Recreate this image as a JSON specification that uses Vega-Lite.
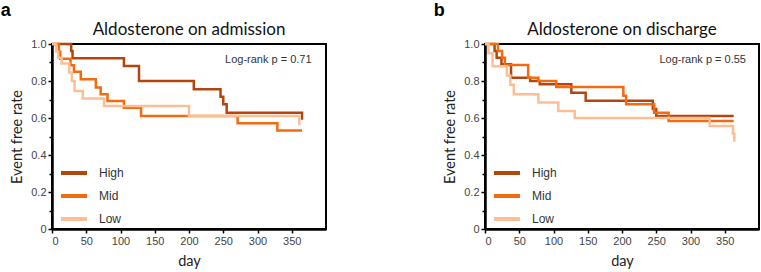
{
  "$schema": "https://vega.github.io/schema/vega-lite/v6.json",
  "padding": {"left": 0, "right": 2, "top": 2, "bottom": 2},
  "datasets": {
    "km": [
      {"p": "a", "g": "High", "d": 0, "s": 1},
      {"p": "a", "g": "High", "d": 28, "s": 0.962},
      {"p": "a", "g": "High", "d": 30, "s": 0.923},
      {"p": "a", "g": "High", "d": 105, "s": 0.881},
      {"p": "a", "g": "High", "d": 127, "s": 0.8},
      {"p": "a", "g": "High", "d": 207, "s": 0.755},
      {"p": "a", "g": "High", "d": 246, "s": 0.715},
      {"p": "a", "g": "High", "d": 250, "s": 0.674},
      {"p": "a", "g": "High", "d": 255, "s": 0.629},
      {"p": "a", "g": "High", "d": 365, "s": 0.59},
      {"p": "a", "g": "Mid", "d": 0, "s": 1},
      {"p": "a", "g": "Mid", "d": 10, "s": 0.96},
      {"p": "a", "g": "Mid", "d": 12, "s": 0.92},
      {"p": "a", "g": "Mid", "d": 27, "s": 0.885},
      {"p": "a", "g": "Mid", "d": 32, "s": 0.85},
      {"p": "a", "g": "Mid", "d": 42, "s": 0.81},
      {"p": "a", "g": "Mid", "d": 64, "s": 0.765},
      {"p": "a", "g": "Mid", "d": 71, "s": 0.728},
      {"p": "a", "g": "Mid", "d": 81, "s": 0.692},
      {"p": "a", "g": "Mid", "d": 105, "s": 0.656},
      {"p": "a", "g": "Mid", "d": 130, "s": 0.611},
      {"p": "a", "g": "Mid", "d": 271, "s": 0.572},
      {"p": "a", "g": "Mid", "d": 329, "s": 0.533},
      {"p": "a", "g": "Mid", "d": 365, "s": 0.533},
      {"p": "a", "g": "Low", "d": 0, "s": 1},
      {"p": "a", "g": "Low", "d": 6, "s": 0.96},
      {"p": "a", "g": "Low", "d": 9, "s": 0.926},
      {"p": "a", "g": "Low", "d": 14, "s": 0.894},
      {"p": "a", "g": "Low", "d": 25, "s": 0.846},
      {"p": "a", "g": "Low", "d": 29, "s": 0.8},
      {"p": "a", "g": "Low", "d": 33, "s": 0.746},
      {"p": "a", "g": "Low", "d": 45, "s": 0.705},
      {"p": "a", "g": "Low", "d": 76, "s": 0.665},
      {"p": "a", "g": "Low", "d": 200, "s": 0.611},
      {"p": "a", "g": "Low", "d": 361, "s": 0.561},
      {"p": "b", "g": "High", "d": 0, "s": 1},
      {"p": "b", "g": "High", "d": 14, "s": 0.962},
      {"p": "b", "g": "High", "d": 17, "s": 0.926},
      {"p": "b", "g": "High", "d": 24, "s": 0.89},
      {"p": "b", "g": "High", "d": 38, "s": 0.818},
      {"p": "b", "g": "High", "d": 66, "s": 0.8},
      {"p": "b", "g": "High", "d": 80, "s": 0.782},
      {"p": "b", "g": "High", "d": 126, "s": 0.737},
      {"p": "b", "g": "High", "d": 147, "s": 0.693},
      {"p": "b", "g": "High", "d": 245, "s": 0.649},
      {"p": "b", "g": "High", "d": 250, "s": 0.611},
      {"p": "b", "g": "High", "d": 363, "s": 0.611},
      {"p": "b", "g": "Mid", "d": 0, "s": 1},
      {"p": "b", "g": "Mid", "d": 19, "s": 0.962},
      {"p": "b", "g": "Mid", "d": 25, "s": 0.926},
      {"p": "b", "g": "Mid", "d": 29, "s": 0.886},
      {"p": "b", "g": "Mid", "d": 63, "s": 0.818},
      {"p": "b", "g": "Mid", "d": 78, "s": 0.8},
      {"p": "b", "g": "Mid", "d": 104, "s": 0.768},
      {"p": "b", "g": "Mid", "d": 202, "s": 0.72},
      {"p": "b", "g": "Mid", "d": 206, "s": 0.674},
      {"p": "b", "g": "Mid", "d": 247, "s": 0.629},
      {"p": "b", "g": "Mid", "d": 268, "s": 0.584},
      {"p": "b", "g": "Mid", "d": 363, "s": 0.584},
      {"p": "b", "g": "Low", "d": 0, "s": 1},
      {"p": "b", "g": "Low", "d": 5, "s": 0.95},
      {"p": "b", "g": "Low", "d": 11, "s": 0.88},
      {"p": "b", "g": "Low", "d": 32, "s": 0.83},
      {"p": "b", "g": "Low", "d": 37, "s": 0.78},
      {"p": "b", "g": "Low", "d": 42, "s": 0.728},
      {"p": "b", "g": "Low", "d": 78, "s": 0.684},
      {"p": "b", "g": "Low", "d": 107, "s": 0.638},
      {"p": "b", "g": "Low", "d": 131, "s": 0.6},
      {"p": "b", "g": "Low", "d": 328, "s": 0.557},
      {"p": "b", "g": "Low", "d": 362, "s": 0.515},
      {"p": "b", "g": "Low", "d": 364, "s": 0.472}
    ]
  },
  "config": {
    "view": {"stroke": "black", "strokeWidth": 2},
    "axis": {
      "domainColor": "black", "domainWidth": 2.5, "tickColor": "black", "tickWidth": 1.5, "tickSize": 4,
      "labelFont": "Liberation Sans", "labelFontSize": 11, "labelColor": "#444", "labelPadding": 2,
      "titleFont": "Lato", "titleFontSize": 14.5, "titleFontWeight": "normal", "titleColor": "#222", "grid": false
    },
    "title": {"font": "Lato", "fontSize": 17, "fontWeight": "normal", "color": "#111"}
  },
  "spacing": 106,
  "resolve": {"scale": {"color": "independent"}, "legend": {"color": "independent"}},
  "hconcat": [
    {
      "title": {"text": "a", "anchor": "start", "frame": "bounds", "font": "Liberation Sans", "fontSize": 18, "fontWeight": "bold", "color": "black", "dx": -8, "offset": 0},
      "vconcat": [
        {
          "width": 274, "height": 185,
          "title": {"text": "Aldosterone on admission", "offset": -1},
          "resolve": {"axis": {"y": "independent"}},
          "layer": [
            {
              "data": {"name": "km"},
              "transform": [{"filter": "datum.p == 'a'"}],
              "mark": {"type": "line", "interpolate": "step-after", "strokeWidth": 2.5},
              "encoding": {
                "x": {"field": "d", "type": "quantitative", "scale": {"domain": [0, 400], "nice": false}, "axis": {"values": [0, 50, 100, 150, 200, 250, 300, 350], "title": "day", "titlePadding": 8}},
                "y": {"field": "s", "type": "quantitative", "scale": {"domain": [0, 1], "nice": false}, "axis": {"orient": "left", "values": [0, 0.2, 0.4, 0.6, 0.8, 1], "labelExpr": "datum.value == 0 ? '0' : format(datum.value, '.1f')", "title": "Event free rate", "titlePadding": 6}},
                "color": {"field": "g", "type": "nominal", "scale": {"domain": ["High", "Mid", "Low"], "range": ["#b3460e", "#f26b10", "#fdbe94"]},
                  "legend": {"title": null, "orient": "none", "legendX": 7, "legendY": 114, "symbolType": "stroke", "symbolSize": 676, "symbolStrokeWidth": 4, "labelFont": "Liberation Sans", "labelFontSize": 12, "labelColor": "#333", "labelOffset": 10, "rowPadding": -3.5}}
              }
            },
            {
              "data": {"values": [{}]},
              "mark": {"type": "text", "align": "right", "baseline": "alphabetic", "font": "Liberation Sans", "fontSize": 11, "color": "#333"},
              "encoding": {
                "x": {"datum": 379, "type": "quantitative", "axis": {"values": [0, 50, 100, 150, 200, 250, 300, 350], "title": "day", "titlePadding": 8}},
                "y": {"datum": 0.899, "type": "quantitative", "axis": {"orient": "left", "values": [0.1, 0.3, 0.5, 0.7, 0.9], "labels": false, "domain": false, "tickSize": 3, "title": null}},
                "text": {"value": "Log-rank p = 0.71"}
              }
            }
          ]
        }
      ]
    },
    {
      "title": {"text": "b", "anchor": "start", "frame": "bounds", "font": "Liberation Sans", "fontSize": 18, "fontWeight": "bold", "color": "black", "dx": -8, "offset": 0},
      "vconcat": [
        {
          "width": 274, "height": 185,
          "title": {"text": "Aldosterone on discharge", "offset": -1},
          "resolve": {"axis": {"y": "independent"}},
          "layer": [
            {
              "data": {"name": "km"},
              "transform": [{"filter": "datum.p == 'b'"}],
              "mark": {"type": "line", "interpolate": "step-after", "strokeWidth": 2.5},
              "encoding": {
                "x": {"field": "d", "type": "quantitative", "scale": {"domain": [0, 400], "nice": false}, "axis": {"values": [0, 50, 100, 150, 200, 250, 300, 350], "title": "day", "titlePadding": 8}},
                "y": {"field": "s", "type": "quantitative", "scale": {"domain": [0, 1], "nice": false}, "axis": {"orient": "left", "values": [0, 0.2, 0.4, 0.6, 0.8, 1], "labelExpr": "datum.value == 0 ? '0' : format(datum.value, '.1f')", "title": "Event free rate", "titlePadding": 6}},
                "color": {"field": "g", "type": "nominal", "scale": {"domain": ["High", "Mid", "Low"], "range": ["#b3460e", "#f26b10", "#fdbe94"]},
                  "legend": {"title": null, "orient": "none", "legendX": 7, "legendY": 114, "symbolType": "stroke", "symbolSize": 676, "symbolStrokeWidth": 4, "labelFont": "Liberation Sans", "labelFontSize": 12, "labelColor": "#333", "labelOffset": 10, "rowPadding": -3.5}}
              }
            },
            {
              "data": {"values": [{}]},
              "mark": {"type": "text", "align": "right", "baseline": "alphabetic", "font": "Liberation Sans", "fontSize": 11, "color": "#333"},
              "encoding": {
                "x": {"datum": 381, "type": "quantitative", "axis": {"values": [0, 50, 100, 150, 200, 250, 300, 350], "title": "day", "titlePadding": 8}},
                "y": {"datum": 0.899, "type": "quantitative", "axis": {"orient": "left", "values": [0.1, 0.3, 0.5, 0.7, 0.9], "labels": false, "domain": false, "tickSize": 3, "title": null}},
                "text": {"value": "Log-rank p = 0.55"}
              }
            }
          ]
        }
      ]
    }
  ]
}
